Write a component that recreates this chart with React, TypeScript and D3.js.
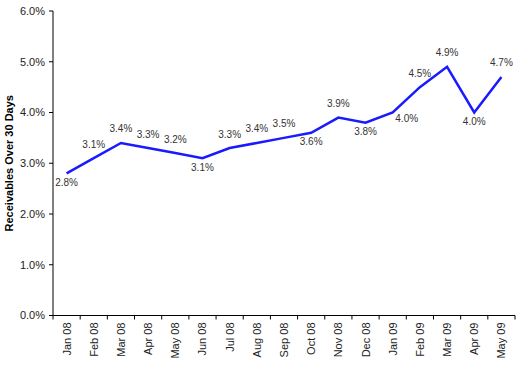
import React from "react";
import * as d3 from "d3";

const months = ["Jan 08","Feb 08","Mar 08","Apr 08","May 08","Jun 08","Jul 08","Aug 08","Sep 08","Oct 08","Nov 08","Dec 08","Jan 09","Feb 09","Mar 09","Apr 09","May 09"];
const values = [2.8, 3.1, 3.4, 3.3, 3.2, 3.1, 3.3, 3.4, 3.5, 3.6, 3.9, 3.8, 4.0, 4.5, 4.9, 4.0, 4.7];
const placements = ["below","above","above","above","above","below","above","above","above","below","above","below","right","above","above","below","above"];
const yTicks = [0, 1, 2, 3, 4, 5, 6];

const W = 529, H = 381;
const left = 53, right = 515, top = 11, bottom = 315.5;

export default function App() {
  const x = d3.scaleBand<string>().domain(months).range([left, right]);
  const y = d3.scaleLinear().domain([0, 6]).range([bottom, top]);
  const cx = (m: string) => (x(m) as number) + x.bandwidth() / 2;
  const line = d3.line<number>().x((_, i) => cx(months[i])).y((d) => y(d));
  const font = "Arial, 'Liberation Sans', sans-serif";
  const boundaries = months.map((m) => x(m) as number).concat([right]);
  return (
    <svg width={W} height={H} style={{ position: "absolute", left: 0, top: 0, background: "#fff" }} fontFamily={font}>
      {/* y axis */}
      <line x1={left} x2={left} y1={top} y2={bottom} stroke="#000" strokeWidth={1} />
      {yTicks.map((t) => (
        <g key={t}>
          <line x1={left - 4} x2={left} y1={y(t)} y2={y(t)} stroke="#000" />
          <text x={left - 8} y={y(t)} dy="0.35em" textAnchor="end" fontSize={11} fill="#222">
            {t.toFixed(1) + "%"}
          </text>
        </g>
      ))}
      {/* x axis */}
      <line x1={left} x2={right} y1={bottom} y2={bottom} stroke="#000" strokeWidth={1} />
      {boundaries.map((b, i) => (
        <line key={i} x1={b} x2={b} y1={bottom} y2={bottom + 4} stroke="#000" />
      ))}
      {months.map((m) => (
        <text key={m} transform={`translate(${cx(m) + 4},${bottom + 7}) rotate(-90)`} textAnchor="end" fontSize={11} fill="#222">
          {m}
        </text>
      ))}
      <text transform={`translate(13,${(top + bottom) / 2}) rotate(-90)`} textAnchor="middle" fontSize={11} fontWeight="bold" fill="#000">
        Receivables Over 30 Days
      </text>
      <path d={line(values) || ""} fill="none" stroke="#1a1aff" strokeWidth={2.5} strokeLinejoin="miter" />
      {values.map((v, i) => {
        const px = cx(months[i]);
        const py = y(v);
        const p = placements[i];
        let lx = px, ly = py;
        if (p === "above") ly = py - 14;
        else if (p === "below") ly = py + 9;
        else { lx = px + 14; ly = py + 6; }
        return (
          <text key={i} x={lx} y={ly} dy="0.35em" textAnchor="middle" fontSize={10} fill="#333">
            {v.toFixed(1) + "%"}
          </text>
        );
      })}
    </svg>
  );
}
